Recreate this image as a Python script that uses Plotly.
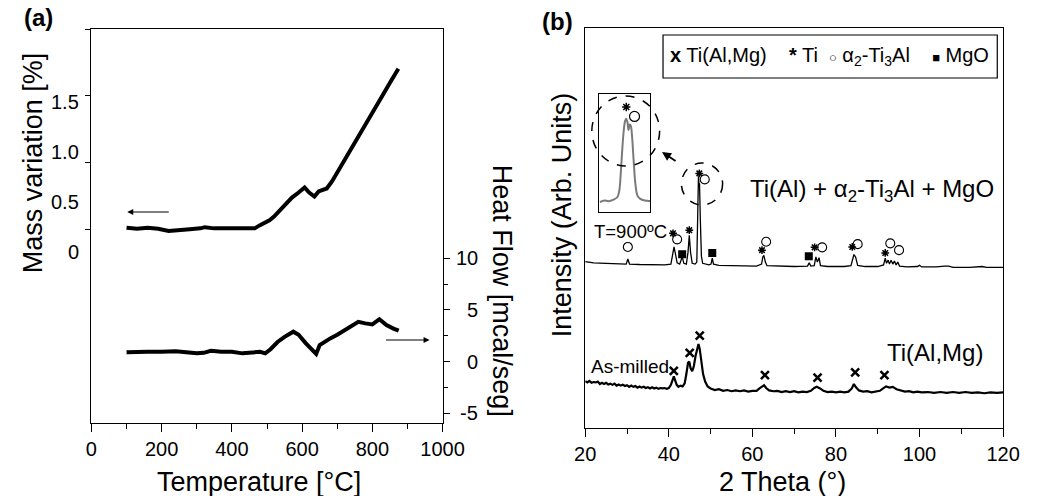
import plotly.graph_objects as go

W, H = 1059, 496
def px(x): return x / W
def py(y): return 1 - y / H

FONT = "Liberation Sans, Arial, sans-serif"

# ---------------- Panel (a): TGA / DSC ----------------
mass_temp = [100, 130, 160, 190, 220, 250, 280, 310, 323, 350, 380, 410, 440, 465, 480, 495, 507,
             520, 534, 550, 571, 590, 607, 620, 635, 647, 658, 670, 685, 700, 720, 740, 760, 782,
             805, 828, 850, 874]
mass_pct = [0.515, 0.507, 0.515, 0.507, 0.49, 0.50, 0.504, 0.51, 0.519, 0.51, 0.51, 0.51, 0.507, 0.51,
            0.534, 0.553, 0.571, 0.598, 0.635, 0.68, 0.74, 0.778, 0.816, 0.778, 0.748, 0.786, 0.80,
            0.808, 0.861, 0.929, 1.011, 1.102, 1.199, 1.305, 1.402, 1.50, 1.598, 1.703]

heat_temp = [100, 130, 160, 200, 240, 270, 300, 320, 340, 370, 400, 430, 460, 480, 495, 510, 530, 550,
             575, 590, 610, 630, 640, 650, 665, 680, 700, 720, 740, 760, 780, 800, 820, 840, 860, 875]
heat_flow = [0.9, 0.95, 0.95, 0.95, 1.0, 0.9, 0.8, 0.85, 1.05, 0.95, 0.95, 0.8, 0.85, 0.95, 0.8, 1.2,
             1.9, 2.4, 2.9, 2.6, 1.8, 1.1, 0.75, 1.6, 1.95, 2.25, 2.6, 3.05, 3.4, 3.85, 3.7, 3.6, 4.1,
             3.55, 3.2, 3.0]

temp_ticks = [0, 200, 400, 600, 800, 1000]
mass_tick_vals = [0.5, 1.0, 1.5, 2.0]
mass_tick_labels = ["0", "0.5", "1.0", "1.5"]
heat_tick_vals = [-5, 0, 5, 10]
heat_tick_labels = ["-5", "0", "5", "10"]

# ---------------- Panel (b): XRD ----------------
theta_ticks = [20, 40, 60, 80, 100, 120]

annealed_theta = [20, 22, 25, 28, 29.8, 30.2, 30.6, 33, 36, 39, 40.5, 41.0, 41.25, 41.6, 42.0, 42.6,
                  43.2, 43.6, 44.2, 44.6, 44.9, 45.2, 45.6, 46.3, 46.7, 46.95, 47.1, 47.25, 47.35,
                  47.55, 47.8, 48.1, 48.6, 49.6, 50.1, 50.4, 50.7, 52, 55, 58, 61, 62.2, 62.5, 62.75,
                  63.1, 63.5, 66, 70, 73.2, 73.6, 74.0, 74.8, 75.2, 75.55, 75.95, 76.3, 78, 82, 83.6,
                  84.0, 84.3, 84.7, 85.2, 87, 90, 91.4, 91.8, 92.1, 92.5, 92.8, 93.2, 93.6, 94.0,
                  94.4, 94.8, 95.2, 97, 99.5, 100, 100.5, 104, 106, 107, 108, 112, 115, 116, 120]
annealed_int = [41.6, 41.3, 41.2, 41.0, 41.0, 42.3, 41.0, 40.9, 40.8, 40.8, 41.0, 44.0, 45.3, 43.5, 41.3,
                41.0, 42.8, 41.2, 41.0, 44.0, 48.2, 44.0, 41.2, 41.0, 41.5, 55.0, 63.0, 60.5, 61.2,
                52.0, 43.0, 41.2, 41.0, 40.8, 41.0, 42.5, 41.0, 40.7, 40.6, 40.6, 40.5, 41.0, 42.8,
                43.2, 41.5, 40.6, 40.5, 40.4, 40.5, 41.3, 40.5, 40.6, 42.8, 41.5, 42.6, 40.6, 40.4,
                40.4, 40.6, 42.0, 43.4, 42.8, 40.7, 40.4, 40.4, 40.8, 42.5, 41.2, 42.0, 41.0, 42.0,
                41.0, 41.8, 40.8, 41.5, 40.5, 40.3, 40.4, 40.7, 40.3, 40.3, 40.5, 40.5, 40.2, 40.2,
                40.4, 40.2, 40.2]

milled_theta = [20, 20.5, 21, 21.5, 22, 22.5, 23, 23.5, 24, 24.5, 25, 25.5, 26, 26.5, 27, 27.5, 28,
                28.5, 29, 29.5, 30, 30.5, 31, 31.5, 32, 32.5, 33, 33.5, 34, 34.5, 35, 35.5, 36, 36.5,
                37, 37.5, 38, 38.5, 39, 39.5, 40, 40.5, 41.0, 41.2, 41.5, 41.9, 42.3, 42.8, 43.3,
                43.8, 44.2, 44.6, 44.9, 45.2, 45.6, 46.0, 46.4, 46.8, 47.1, 47.4, 47.8, 48.2, 48.7,
                49.3, 50, 51, 52, 53, 54, 55, 56, 57, 58, 59, 60, 61, 61.7, 62.3, 62.8, 63.3, 64, 65,
                66, 67, 68, 69, 70, 71, 72, 73, 74, 74.8, 75.4, 76.2, 77, 78, 79, 80, 81, 82, 83,
                83.8, 84.3, 84.8, 85.5, 86.5, 87.5, 88.5, 89.5, 90.5, 91.3, 92, 92.8, 93.6, 94.5,
                95.5, 96.5, 97.5, 98.5, 99.5, 100.5, 102, 103.5, 105, 106.5, 108, 109.5, 111, 112.5,
                114, 115.5, 117, 118.5, 120]
milled_int = [11.7, 11.4, 11.8, 11.3, 11.5, 11.4, 11.6, 11.0, 11.3, 11.0, 11.3, 10.9, 11.1, 10.8, 11.1,
              10.6, 10.9, 10.6, 10.8, 10.5, 10.7, 10.3, 10.6, 10.3, 10.5, 10.1, 10.4, 10.1, 10.3, 10.0,
              10.2, 9.9, 10.2, 9.9, 10.1, 9.8, 10.0, 9.9, 10.0, 9.8, 10.0, 10.8, 12.3, 12.9, 12.0,
              10.8, 10.3, 10.6, 10.4, 11.2, 13.5, 16.3, 16.6, 15.0, 14.2, 15.5, 18.0, 20.3, 21.0,
              19.8, 16.5, 13.5, 11.6, 10.4, 9.9, 9.5, 9.7, 9.3, 9.5, 9.2, 9.4, 9.2, 9.4, 9.1, 9.3,
              9.3, 9.9, 10.4, 10.7, 10.0, 9.4, 9.2, 9.3, 9.0, 9.2, 9.0, 9.2, 8.9, 9.1, 9.0, 9.3,
              10.0, 10.3, 9.9, 9.3, 9.0, 9.1, 8.9, 9.1, 8.9, 9.1, 9.9, 11.0, 10.2, 9.4, 9.1, 9.2,
              8.9, 9.1, 9.3, 9.9, 10.4, 10.1, 10.3, 9.7, 9.4, 9.1, 9.2, 8.9, 9.1, 8.9, 9.0, 8.8,
              9.0, 8.8, 9.0, 8.8, 9.0, 8.8, 8.9, 8.7, 8.9, 8.8, 8.9]

# phase identification marks (position, height)
ti_theta = [41.0, 44.9, 47.3, 62.3, 74.9, 83.9, 91.8]
ti_int = [48.7, 49.5, 63.7, 44.5, 45.2, 45.3, 43.8]
a2_theta = [30.2, 42.0, 48.6, 63.3, 76.7, 85.2, 93.0, 95.1]
a2_int = [45.3, 47.2, 62.2, 46.6, 45.2, 46.0, 46.2, 44.5]
mgo_theta = [43.2, 50.4, 73.5]
mgo_int = [43.5, 43.8, 43.0]
tialmg_theta = [41.2, 45.0, 47.4, 63.0, 75.6, 84.6, 91.6]
tialmg_int = [14.3, 18.8, 23.1, 13.25, 12.6, 13.9, 13.25]

# inset: enlarged main reflection (relative units)
inset_pos = [0.017, 0.101, 0.185, 0.27, 0.354, 0.393, 0.421, 0.449, 0.478, 0.506, 0.528, 0.551, 0.573,
             0.596, 0.618, 0.64, 0.674, 0.708, 0.747, 0.803, 0.888, 1.0]
inset_int = [0.083, 0.097, 0.092, 0.103, 0.125, 0.18, 0.32, 0.514, 0.68, 0.77, 0.79, 0.764, 0.694,
             0.742, 0.73, 0.653, 0.43, 0.236, 0.139, 0.111, 0.097, 0.092]
inset_ti = ([0.53], [0.89])
inset_a2 = ([0.69], [0.81])

fig = go.Figure()

fig.add_trace(go.Scatter(x=mass_temp, y=mass_pct, mode="lines", line=dict(color="black", width=4),
                         xaxis="x", yaxis="y", showlegend=False))
fig.add_trace(go.Scatter(x=heat_temp, y=heat_flow, mode="lines", line=dict(color="black", width=4),
                         xaxis="x", yaxis="y2", showlegend=False))

fig.add_trace(go.Scatter(x=annealed_theta, y=annealed_int, mode="lines",
                         line=dict(color="black", width=1.3), xaxis="x2", yaxis="y3", showlegend=False))
fig.add_trace(go.Scatter(x=milled_theta, y=milled_int, mode="lines",
                         line=dict(color="black", width=2.2), xaxis="x2", yaxis="y3", showlegend=False))

fig.add_trace(go.Scatter(x=ti_theta, y=ti_int, mode="markers", xaxis="x2", yaxis="y3", showlegend=False,
                         marker=dict(symbol="asterisk-open", size=6.5, color="black",
                                     line=dict(color="black", width=1.5))))
fig.add_trace(go.Scatter(x=a2_theta, y=a2_int, mode="markers", xaxis="x2", yaxis="y3", showlegend=False,
                         marker=dict(symbol="circle-open", size=9, color="black",
                                     line=dict(color="black", width=1.1))))
fig.add_trace(go.Scatter(x=mgo_theta, y=mgo_int, mode="markers", xaxis="x2", yaxis="y3", showlegend=False,
                         marker=dict(symbol="square", size=8, color="black")))
fig.add_trace(go.Scatter(x=tialmg_theta, y=tialmg_int, mode="markers", xaxis="x2", yaxis="y3",
                         showlegend=False,
                         marker=dict(symbol="x-thin-open", size=8, color="black",
                                     line=dict(color="black", width=2.5))))

fig.add_trace(go.Scatter(x=inset_pos, y=inset_int, mode="lines", line=dict(color="#7a7a7a", width=2),
                         xaxis="x3", yaxis="y4", showlegend=False, line_shape="spline"))
fig.add_trace(go.Scatter(x=inset_ti[0], y=inset_ti[1], mode="markers", xaxis="x3", yaxis="y4",
                         showlegend=False,
                         marker=dict(symbol="asterisk-open", size=7, color="black",
                                     line=dict(color="black", width=1.5))))
fig.add_trace(go.Scatter(x=inset_a2[0], y=inset_a2[1], mode="markers", xaxis="x3", yaxis="y4",
                         showlegend=False,
                         marker=dict(symbol="circle-open", size=10, color="black",
                                     line=dict(color="black", width=1.2))))

axis_common = dict(showgrid=False, zeroline=False, showline=True, linecolor="black", linewidth=1.2,
                   tickcolor="black", tickfont=dict(size=20, color="black", family=FONT))

# mass axis: 2.0 at top (29px), 133.8 px per unit
mass_top, mass_pxu = 2.0, 133.8
mass_bottom = mass_top - (423 - 29) / mass_pxu
# heat axis: 10 at 258.3px, 10.333 px per unit
heat_pxu = 10.333
heat_top = 10 + (258.3 - 29) / heat_pxu
heat_bottom = 10 - (423 - 258.3) / heat_pxu

fig.update_layout(
    width=W, height=H, margin=dict(l=0, r=0, t=0, b=0),
    paper_bgcolor="white", plot_bgcolor="white",
    font=dict(family=FONT, color="black"),
    xaxis=dict(domain=[px(83), px(445.5)], range=[0, 1000], anchor="y", tickvals=temp_ticks,
               ticks="outside", ticklen=8, mirror=True,
               minor=dict(tickvals=[100, 300, 500, 700, 900], ticks="outside", ticklen=5,
                          tickcolor="black"),
               **axis_common),
    yaxis=dict(domain=[py(423), py(29)], range=[mass_bottom, mass_top], anchor="x",
               tickvals=mass_tick_vals, ticks="outside", ticklen=5, showticklabels=False,
               **axis_common),
    yaxis2=dict(overlaying="y", side="right", anchor="x", range=[heat_bottom, heat_top],
                tickvals=heat_tick_vals, ticks="outside", ticklen=6, showticklabels=False,
                minor=dict(tickvals=[-2.5, 2.5, 7.5], ticks="outside", ticklen=4, tickcolor="black"),
                **axis_common),
    xaxis2=dict(domain=[px(592.7), px(1024)], range=[20, 120], anchor="y3", tickvals=theta_ticks,
                ticks="outside", ticklen=8, mirror=True,
                minor=dict(dtick=10, tick0=0, ticks="outside", ticklen=5, tickcolor="black"),
                **axis_common),
    yaxis3=dict(domain=[py(428), py(28.3)], range=[0, 100], anchor="x2", showticklabels=False,
                ticks="", mirror=True, **axis_common),
    xaxis3=dict(domain=[px(607), px(660)], range=[0, 1], anchor="y4", showticklabels=False, ticks="",
                mirror=True, **axis_common),
    yaxis4=dict(domain=[py(212), py(94)], range=[0, 1.0], anchor="x3", showticklabels=False, ticks="",
                mirror=True, **axis_common),
)

ann = []
def text(x, y, s, size, xanchor="center", yanchor="middle", **kw):
    d = dict(x=px(x), y=py(y), xref="paper", yref="paper", text=s, showarrow=False,
             xanchor=xanchor, yanchor=yanchor,
             font=dict(size=size, color="black", family=FONT))
    d.update(kw)
    ann.append(d)

# left axis tick labels (label column spaced 100 px per unit, "0" at 252 px)
for v_lab in mass_tick_labels:
    v = float(v_lab)
    text(72, 252 - v * 100, v_lab, 20, xanchor="right")
# right axis tick labels, right-aligned
for v, lab in zip(heat_tick_vals, heat_tick_labels):
    ann.append(dict(x=px(484), y=v, xref="paper", yref="y2", text=lab, showarrow=False,
                    xanchor="right", yanchor="middle", font=dict(size=20, color="black", family=FONT)))

# titles
text(28, 18, "<b>(a)</b>", 24)
text(564, 22, "<b>(b)</b>", 24)
text(23, 163, "Mass variation [%]", 27, textangle=-90)
text(507, 291, "Heat Flow [mcal/seg]", 27, textangle=90)
text(256, 482, "Temperature [°C]", 27)
text(796, 482, "2 Theta (°)", 27)
text(569, 215, "Intensity (Arb. Units)", 27, textangle=-90)

# panel (b) labels
text(889, 190, "Ti(Al) + α<sub>2</sub>-Ti<sub>3</sub>Al + MgO", 24)
text(639, 231, "T=900ºC", 18.5)
text(639, 366, "As-milled", 19)
text(954, 352, "Ti(Al,Mg)", 24)
text(845, 57, "<b>x</b> Ti(Al,Mg)    <b>*</b> Ti  <span style='font-size:13px'>○</span> "
              "α<sub>2</sub>-Ti<sub>3</sub>Al    <span style='font-size:13px'>■</span> MgO", 20)

# arrows
arrow = dict(xref="paper", yref="paper", axref="pixel", ayref="pixel", showarrow=True, text="",
             arrowcolor="black", arrowhead=2, arrowsize=1, arrowwidth=1.2)
ann.append(dict(arrow, x=px(120), y=py(212), ax=43, ay=0))
ann.append(dict(arrow, x=px(432), y=py(340), ax=-45, ay=0))
ann.append(dict(arrow, x=px(672), y=py(152), ax=15, ay=10, arrowwidth=1.8))

fig.update_layout(annotations=ann)

shapes = [
    dict(type="rect", xref="paper", yref="paper", x0=px(673), x1=px(1018), y0=py(78), y1=py(35),
         line=dict(color="black", width=1.2)),
    dict(type="circle", xref="paper", yref="paper", x0=px(599.5), x1=px(669.5), y0=py(166), y1=py(96),
         line=dict(color="black", width=1.5, dash="dash")),
    dict(type="circle", xref="paper", yref="paper", x0=px(692), x1=px(734.5), y0=py(205), y1=py(163),
         line=dict(color="black", width=1.5, dash="dash")),
]
fig.update_layout(shapes=shapes)

fig.write_html("out.html")
